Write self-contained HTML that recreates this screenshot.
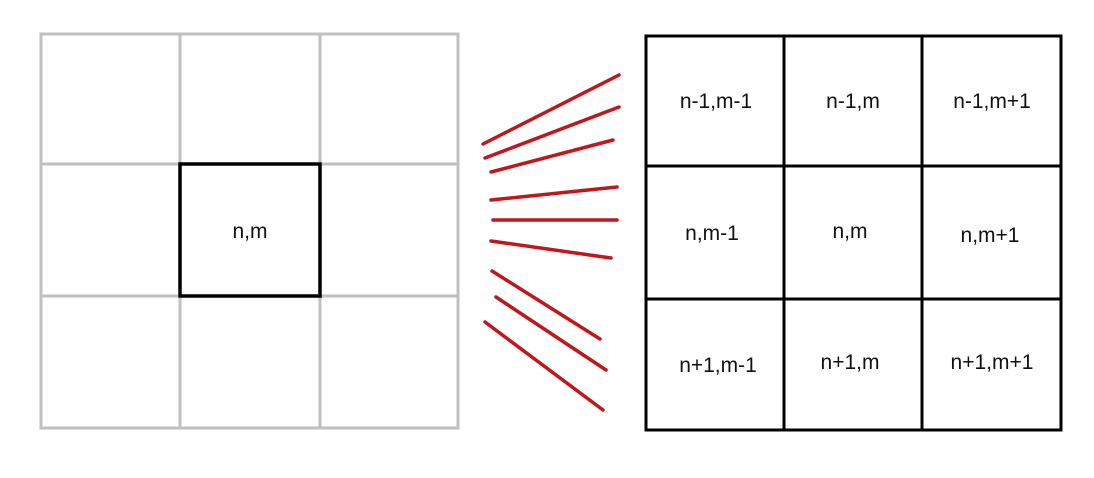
<!DOCTYPE html>
<html><head><meta charset="utf-8"><style>
html,body{margin:0;padding:0;background:#fff;width:1094px;height:478px;overflow:hidden}
text{font-family:"Liberation Sans",sans-serif;font-size:21px;fill:#111}
</style></head><body>
<svg width="1094" height="478" viewBox="0 0 1094 478">
<g stroke="#c0c0c0" stroke-width="3" fill="none">
<rect x="41" y="34" width="417" height="394"/>
<line x1="180" y1="34" x2="180" y2="428"/>
<line x1="320" y1="34" x2="320" y2="428"/>
<line x1="41" y1="164" x2="458" y2="164"/>
<line x1="41" y1="296" x2="458" y2="296"/>
</g>
<rect x="180" y="164" width="140" height="132" fill="none" stroke="#000" stroke-width="3.5"/>
<text x="250" y="238" text-anchor="middle">n,m</text>
<g stroke="#c0161c" stroke-width="3.5" stroke-linecap="round">
<line x1="483" y1="144" x2="619" y2="75"/>
<line x1="485" y1="158" x2="619" y2="107"/>
<line x1="491" y1="172" x2="613" y2="140"/>
<line x1="491" y1="200" x2="617" y2="187"/>
<line x1="493" y1="220" x2="617" y2="220"/>
<line x1="491" y1="241" x2="611" y2="258"/>
<line x1="492" y1="271" x2="600" y2="339"/>
<line x1="496" y1="297" x2="606" y2="370"/>
<line x1="485" y1="322" x2="603" y2="410"/>
</g>
<g stroke="#000" stroke-width="3" fill="none">
<rect x="646" y="36" width="415" height="394"/>
<line x1="784" y1="36" x2="784" y2="430"/>
<line x1="922" y1="36" x2="922" y2="430"/>
<line x1="646" y1="166" x2="1061" y2="166"/>
<line x1="646" y1="299" x2="1061" y2="299"/>
</g>
<g text-anchor="middle">
<text x="716" y="108">n-1,m-1</text>
<text x="853" y="108">n-1,m</text>
<text x="992" y="108">n-1,m+1</text>
<text x="712" y="240">n,m-1</text>
<text x="850" y="238">n,m</text>
<text x="990" y="242">n,m+1</text>
<text x="718" y="372">n+1,m-1</text>
<text x="850" y="369">n+1,m</text>
<text x="992" y="369">n+1,m+1</text>
</g>
</svg>
</body></html>
